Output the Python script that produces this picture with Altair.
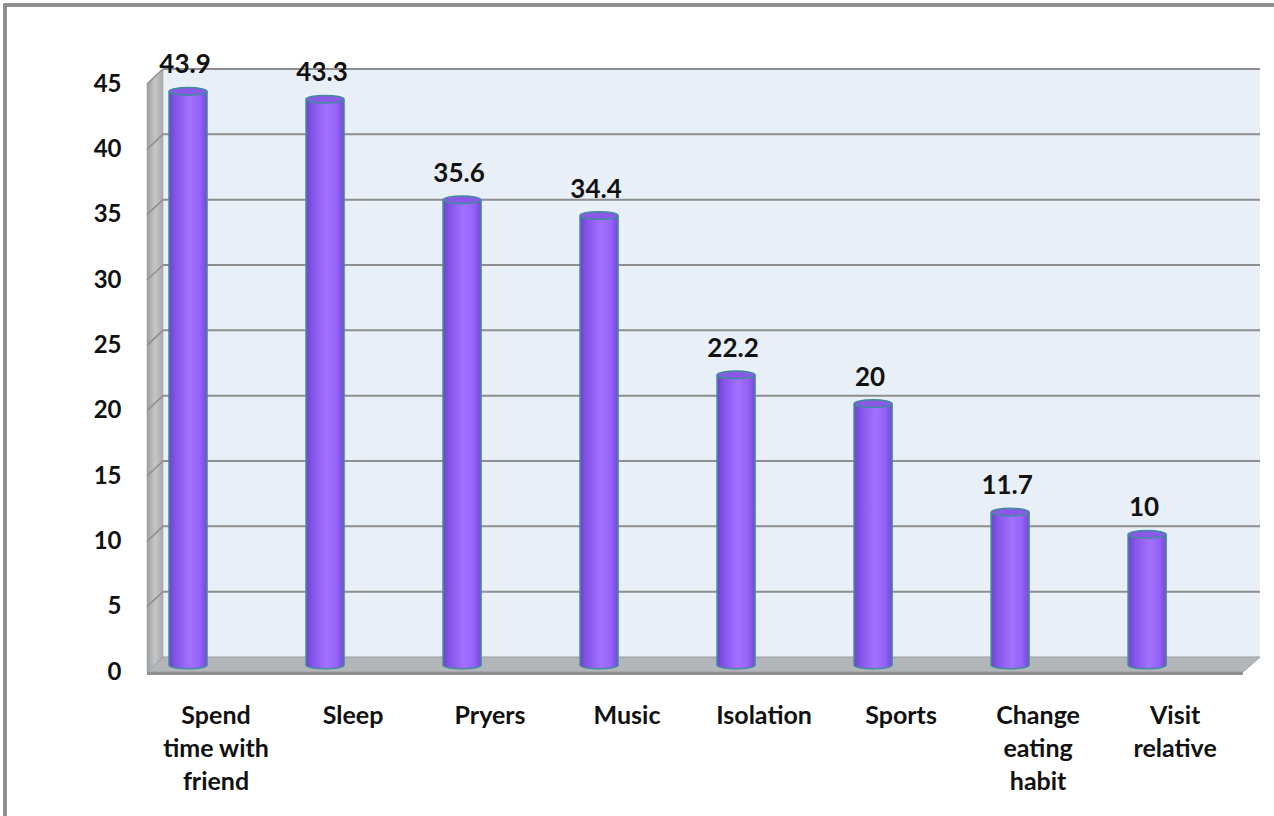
import altair as alt
import pandas as pd

# ---- data ----
categories = ["Spend time with friend", "Sleep", "Pryers", "Music", "Isolation",
              "Sports", "Change eating habit", "Visit relative"]
values = [43.9, 43.3, 35.6, 34.4, 22.2, 20, 11.7, 10]
label_lines = [["Spend", "time with", "friend"], ["Sleep"], ["Pryers"], ["Music"],
               ["Isolation"], ["Sports"], ["Change", "eating", "habit"], ["Visit", "relative"]]
y_ticks = [0, 5, 10, 15, 20, 25, 30, 35, 40, 45]

df = pd.DataFrame({"cat": categories, "val": values})
df["lab"] = [str(v) if v != int(v) else str(int(v)) for v in values]
grid_df = pd.DataFrame({"g": y_ticks})

# ---- layout constants ----
W, H = 1113, 588          # plot area (bar plane)
DEPTH_X = 16               # 3D depth offset in x
BACK_DY = -8               # back wall offset from bar plane
FRONT_DY = 7               # front edge offset from bar plane
FONT = "Lato"

xscale = alt.Scale(domain=categories, paddingInner=0.7226, paddingOuter=0.423, align=0.19)
yscale = alt.Scale(domain=[0, 45], nice=False, zero=True)

# label expression for multi-line category labels
expr = "datum.label"
for c, ls in reversed(list(zip(categories, label_lines))):
    arr = "[" + ",".join("'" + s + "'" for s in ls) + "]"
    expr = f"datum.label == '{c}' ? {arr} : ({expr})"

base = alt.Chart(df)

x_enc = alt.X("cat:N", scale=xscale, sort=categories,
              axis=alt.Axis(title=None, labelExpr=expr, labelOffset=28, labelPadding=50,
                            labelFont=FONT, labelFontSize=25, labelFontWeight="bold",
                            labelColor="#111111", labelLineHeight=33, labelAngle=0,
                            ticks=False, domain=False, labelBaseline="middle"))
y_enc = alt.Y("val:Q", scale=yscale,
              axis=alt.Axis(title=None, values=y_ticks, labelOffset=FRONT_DY, labelPadding=26,
                            labelFont=FONT, labelFontSize=24, labelFontWeight="bold",
                            labelColor="#111111", ticks=False, domain=False, grid=False))

# outer frame
frame = alt.Chart(grid_df).mark_rect(fill=None, stroke="#8C8C8C", strokeWidth=2.5).encode(
    x=alt.value(-142), x2=alt.value(W + 40), y=alt.value(-72), y2=alt.value(H + 200))

# back wall
back = alt.Chart(grid_df).transform_filter("datum.g == 0").mark_rect(
    fill="#E9EFF7", yOffset=BACK_DY, y2Offset=BACK_DY).encode(
    x=alt.value(DEPTH_X), x2=alt.value(W), y=alt.datum(0, scale=yscale), y2=alt.datum(45))

# side wall (parallelogram)
side_path = f"M0,{FRONT_DY} L{DEPTH_X},{BACK_DY} L{DEPTH_X},{BACK_DY - H} L0,{FRONT_DY - H} Z"
side = alt.Chart(grid_df).transform_filter("datum.g == 0").mark_point(
    shape=side_path, size=4, filled=True, opacity=1,
    fill=alt.Gradient(gradient="linear", x1=0, x2=1, y1=0, y2=0,
                      stops=[alt.GradientStop(color="#9C9EA0", offset=0),
                             alt.GradientStop(color="#C4C6C8", offset=0.5),
                             alt.GradientStop(color="#A8AAAC", offset=1)]),
    stroke="#9A9C9E", strokeWidth=0.5).encode(
    x=alt.value(0), y=alt.Y("g:Q", scale=yscale))

# floor
floor_path = (f"M0,{FRONT_DY} L{W - DEPTH_X - 1},{FRONT_DY} L{W},{BACK_DY} "
              f"L{DEPTH_X},{BACK_DY} Z")
floor_front = (f"M0,{FRONT_DY} L{W - DEPTH_X - 1},{FRONT_DY} L{W - DEPTH_X - 1},{FRONT_DY + 3} "
               f"L0,{FRONT_DY + 3} Z")
floor = alt.Chart(grid_df).transform_filter("datum.g == 0").mark_point(
    shape=floor_path, size=4, filled=True, opacity=1, fill="#B3B6B9",
    stroke="#9A9DA0", strokeWidth=1).encode(x=alt.value(0), y=alt.Y("g:Q", scale=yscale))
floor_edge = alt.Chart(grid_df).transform_filter("datum.g == 0").mark_point(
    shape=floor_front, size=4, filled=True, opacity=1, fill="#8E9194").encode(
    x=alt.value(0), y=alt.Y("g:Q", scale=yscale))

# gridlines on back wall
grid_back = alt.Chart(grid_df).transform_filter("datum.g > 0").mark_rule(
    color="#8E8E8E", strokeWidth=2, yOffset=BACK_DY).encode(
    x=alt.value(DEPTH_X), x2=alt.value(W), y=alt.Y("g:Q", scale=yscale))
# diagonal gridlines on side wall
grid_side = alt.Chart(grid_df).transform_filter("datum.g > 0").mark_rule(
    color="#8E8E8E", strokeWidth=1.5, yOffset=FRONT_DY, y2Offset=BACK_DY).encode(
    x=alt.value(0), x2=alt.value(DEPTH_X), y=alt.Y("g:Q", scale=yscale), y2="g:Q")

# cylinders
body_grad = alt.Gradient(gradient="linear", x1=0, x2=1, y1=0, y2=0, stops=[
    alt.GradientStop(color="#6E44CC", offset=0),
    alt.GradientStop(color="#8757EC", offset=0.2),
    alt.GradientStop(color="#A470FF", offset=0.55),
    alt.GradientStop(color="#9563F8", offset=0.8),
    alt.GradientStop(color="#7548D8", offset=1)])
ellipse = "M-1,0 A1,0.2 0 1,1 1,0 A1,0.2 0 1,1 -1,0 Z"
ell_size = 38 * 38

bottom_ell = base.mark_point(shape=ellipse, size=ell_size, filled=True, opacity=1,
                             fill=body_grad, stroke="#3E8C9E", strokeWidth=1.5).encode(
    x=x_enc, y=alt.datum(0, scale=yscale))
body = base.mark_bar(fill=body_grad, stroke=None).encode(x=x_enc, y=y_enc, y2=alt.datum(0))
edge_l = base.mark_rule(color="#3E8C9E", strokeWidth=1.5).encode(
    x=alt.X("cat:N", scale=xscale, sort=categories, bandPosition=0), y="val:Q", y2=alt.datum(0))
edge_r = base.mark_rule(color="#3E8C9E", strokeWidth=1.5).encode(
    x=alt.X("cat:N", scale=xscale, sort=categories, bandPosition=1), y="val:Q", y2=alt.datum(0))
top_ell = base.mark_point(shape=ellipse, size=ell_size, filled=True, opacity=1,
                          fill="#8A5AE6", stroke="#3E8C9E", strokeWidth=1.5).encode(
    x=x_enc, y="val:Q")

value_labels = base.mark_text(font=FONT, fontSize=26, fontWeight="bold", color="#111111",
                              baseline="middle", dy=-26, dx=-3).encode(
    x=x_enc, y="val:Q", text="lab:N")

chart = alt.layer(frame, back, grid_back, side, grid_side, floor, floor_edge,
                  bottom_ell, body, edge_l, edge_r, top_ell, value_labels).properties(
    width=W, height=H,
    padding={"left": 147, "top": 77, "right": 14, "bottom": 151},
    autosize=alt.AutoSizeParams(type="none"),
    background="white",
).configure_view(stroke=None)

chart.save("out.html", embed_options={"renderer": "svg", "actions": False})
